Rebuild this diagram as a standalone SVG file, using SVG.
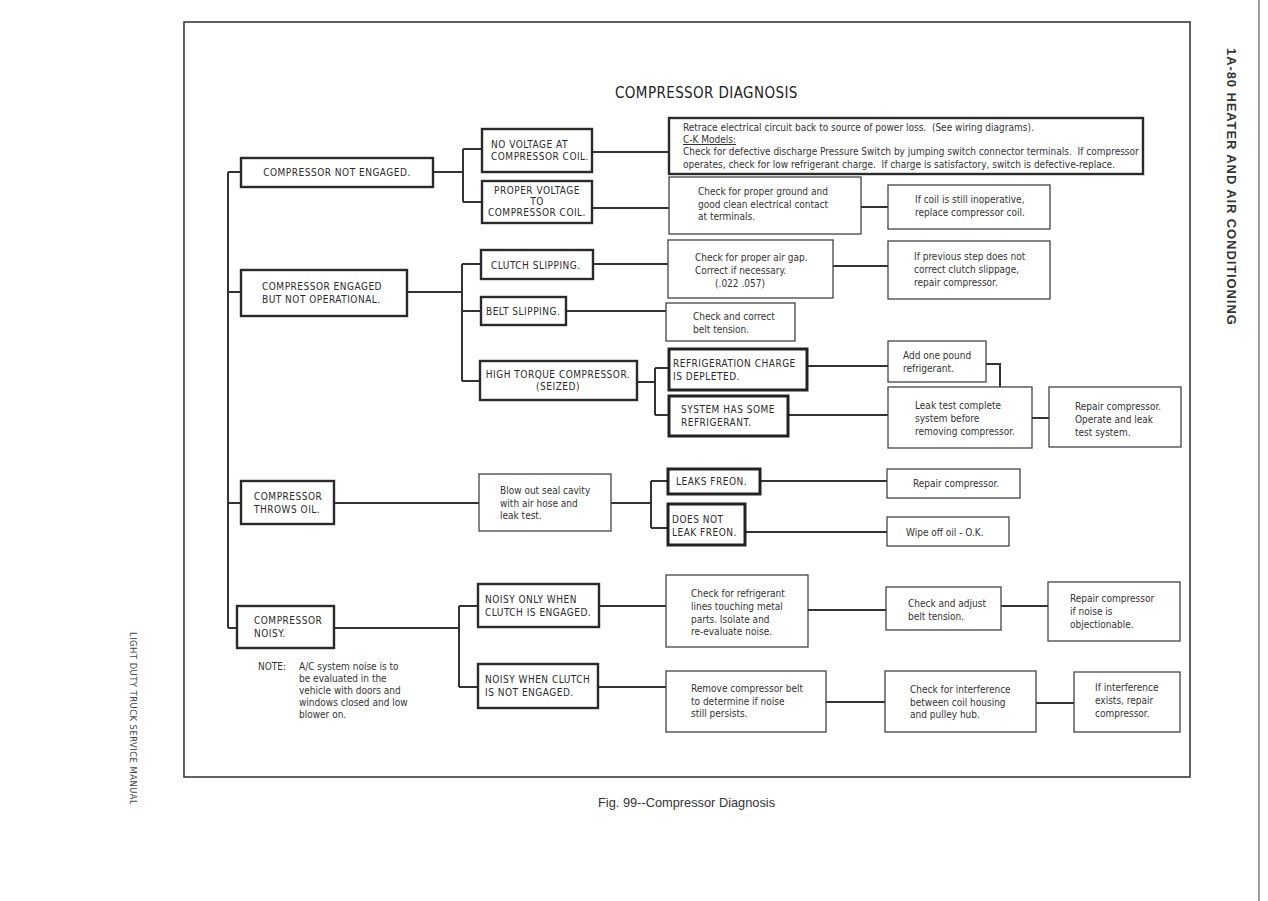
<svg xmlns="http://www.w3.org/2000/svg" width="1268" height="901" viewBox="0 0 1268 901">
<style>
.bg{fill:#fff}
.frame{fill:none;stroke:#3a3a3a;stroke-width:1.6}
.bx{fill:#fff;stroke:#2a2a2a;stroke-width:2.4}
.bxx{fill:#fff;stroke:#222;stroke-width:3}
.bt{fill:#fff;stroke:#444;stroke-width:1.3}
.ln{fill:none;stroke:#333;stroke-width:2}
.cap{font-family:"Liberation Sans Narrow","DejaVu Sans Condensed","Liberation Sans",sans-serif;font-size:10px;letter-spacing:0.5px;fill:#2a2a2a}
.txt{font-family:"Liberation Sans Narrow","DejaVu Sans Condensed","Liberation Sans",sans-serif;font-size:10px;fill:#333}
.mid{text-anchor:middle}
.title{font-family:"Liberation Sans Narrow","DejaVu Sans Condensed","Liberation Sans",sans-serif;font-size:15px;letter-spacing:0.4px;fill:#222}
.side{font-family:"Liberation Sans","DejaVu Sans",sans-serif;font-size:13px;font-weight:bold;letter-spacing:0.9px;fill:#333}
.side2{font-family:"Liberation Sans Narrow","DejaVu Sans Condensed","Liberation Sans",sans-serif;font-size:9.3px;letter-spacing:0.5px;fill:#444}
.cap2{font-family:"Liberation Sans","DejaVu Sans",sans-serif;font-size:12.8px;fill:#333}
</style>
<rect class="bg" x="0" y="0" width="1268" height="901"/>
<line x1="1259" y1="0" x2="1259" y2="901" stroke="#9a9a9a" stroke-width="2"/>
<rect class="frame" x="184" y="22" width="1006" height="755"/>
<text class="title" x="615" y="98">COMPRESSOR DIAGNOSIS</text>

<g id="connectors">
<path class="ln" d="M228 172V628M228 172H241M228 292H241M228 503H241M228 628H237"/>
<path class="ln" d="M433 172H463M463 149V202M463 149H482M463 202H482"/>
<path class="ln" d="M592 152H669M592 208H669M861 207H888"/>
<path class="ln" d="M407 292H462M462 264V381M462 264H481M462 311H481M462 381H480"/>
<path class="ln" d="M593 264H668M833 266H888M566 311H666"/>
<path class="ln" d="M637 382H655M655 368V415M655 368H669M655 415H669"/>
<path class="ln" d="M807 366H888M986 364H1000V387M788 415H888M1032 418H1049"/>
<path class="ln" d="M334 503H479M611 503H651M651 481V528M651 481H668M651 528H668M760 481H887M745 532H887"/>
<path class="ln" d="M334 628H459M459 606V687M459 606H478M459 687H478"/>
<path class="ln" d="M599 606H666M808 610H886M1001 606H1048M598 687H666M826 702H885M1036 703H1074"/>
</g>

<g id="n1"><rect class="bx" x="241" y="158" width="192" height="29"/><text class="cap mid" x="337" y="176">COMPRESSOR NOT ENGAGED.</text></g>
<g id="n2"><rect class="bx" x="482" y="129" width="110" height="43"/><text class="cap" x="491" y="148">NO VOLTAGE AT</text><text class="cap" x="491" y="160">COMPRESSOR COIL.</text></g>
<g id="n3"><rect class="bx" x="482" y="181" width="110" height="42"/><text class="cap mid" x="537" y="194">PROPER VOLTAGE</text><text class="cap mid" x="537" y="205">TO</text><text class="cap mid" x="537" y="216">COMPRESSOR COIL.</text></g>
<g id="n4"><rect class="bx" x="669" y="118" width="474" height="56"/>
<text class="txt" x="683" y="131" xml:space="preserve">Retrace electrical circuit back to source of power loss.  (See wiring diagrams).</text>
<text class="txt" x="683" y="143" text-decoration="underline">C-K Models:</text>
<text class="txt" x="683" y="155" xml:space="preserve">Check for defective discharge Pressure Switch by jumping switch connector terminals.  If compressor</text>
<text class="txt" x="683" y="168" xml:space="preserve">operates, check for low refrigerant charge.  If charge is satisfactory, switch is defective-replace.</text></g>
<g id="n5"><rect class="bt" x="669" y="177" width="192" height="57"/><text class="txt" x="698" y="195">Check for proper ground and</text><text class="txt" x="698" y="208">good clean electrical contact</text><text class="txt" x="698" y="220">at terminals.</text></g>
<g id="n6"><rect class="bt" x="888" y="185" width="162" height="44"/><text class="txt" x="915" y="203">If coil is still inoperative,</text><text class="txt" x="915" y="216">replace compressor coil.</text></g>

<g id="n7"><rect class="bx" x="241" y="270" width="166" height="46"/><text class="cap" x="262" y="290">COMPRESSOR ENGAGED</text><text class="cap" x="262" y="303">BUT NOT OPERATIONAL.</text></g>
<g id="n8"><rect class="bx" x="481" y="250" width="112" height="29"/><text class="cap" x="491" y="269">CLUTCH SLIPPING.</text></g>
<g id="n9"><rect class="bx" x="481" y="297" width="85" height="28"/><text class="cap" x="486" y="315">BELT SLIPPING.</text></g>
<g id="n10"><rect class="bx" x="480" y="361" width="157" height="39"/><text class="cap mid" x="558" y="378">HIGH TORQUE COMPRESSOR.</text><text class="cap mid" x="558" y="390">(SEIZED)</text></g>
<g id="n11"><rect class="bt" x="668" y="240" width="165" height="58"/><text class="txt" x="695" y="261">Check for proper air gap.</text><text class="txt" x="695" y="274">Correct if necessary.</text><text class="txt mid" x="740" y="287">(.022 .057)</text></g>
<g id="n12"><rect class="bt" x="888" y="241" width="162" height="58"/><text class="txt" x="914" y="260">If previous step does not</text><text class="txt" x="914" y="273">correct clutch slippage,</text><text class="txt" x="914" y="286">repair compressor.</text></g>
<g id="n13"><rect class="bt" x="666" y="303" width="129" height="38"/><text class="txt" x="693" y="320">Check and correct</text><text class="txt" x="693" y="333">belt tension.</text></g>
<g id="n14"><rect class="bxx" x="669" y="349" width="138" height="41"/><text class="cap" x="673" y="367">REFRIGERATION CHARGE</text><text class="cap" x="673" y="380">IS DEPLETED.</text></g>
<g id="n15"><rect class="bxx" x="669" y="396" width="119" height="40"/><text class="cap" x="681" y="413">SYSTEM HAS SOME</text><text class="cap" x="681" y="426">REFRIGERANT.</text></g>
<g id="n16"><rect class="bt" x="888" y="341" width="98" height="41"/><text class="txt" x="903" y="359">Add one pound</text><text class="txt" x="903" y="372">refrigerant.</text></g>
<g id="n17"><rect class="bt" x="888" y="387" width="144" height="61"/><text class="txt" x="915" y="409">Leak test complete</text><text class="txt" x="915" y="422">system before</text><text class="txt" x="915" y="435">removing compressor.</text></g>
<g id="n18"><rect class="bt" x="1049" y="387" width="132" height="60"/><text class="txt" x="1075" y="410">Repair compressor.</text><text class="txt" x="1075" y="423">Operate and leak</text><text class="txt" x="1075" y="436">test system.</text></g>

<g id="n19"><rect class="bx" x="241" y="481" width="93" height="43"/><text class="cap" x="254" y="500">COMPRESSOR</text><text class="cap" x="254" y="513">THROWS OIL.</text></g>
<g id="n20"><rect class="bt" x="479" y="474" width="132" height="57"/><text class="txt" x="500" y="494">Blow out seal cavity</text><text class="txt" x="500" y="507">with air hose and</text><text class="txt" x="500" y="519">leak test.</text></g>
<g id="n21"><rect class="bxx" x="668" y="469" width="92" height="25"/><text class="cap" x="676" y="485">LEAKS FREON.</text></g>
<g id="n22"><rect class="bxx" x="668" y="504" width="77" height="41"/><text class="cap" x="672" y="523">DOES NOT</text><text class="cap" x="672" y="536">LEAK FREON.</text></g>
<g id="n23"><rect class="bt" x="887" y="469" width="133" height="29"/><text class="txt" x="913" y="487">Repair compressor.</text></g>
<g id="n24"><rect class="bt" x="887" y="517" width="122" height="29"/><text class="txt" x="906" y="536">Wipe off oil - O.K.</text></g>

<g id="n25"><rect class="bx" x="237" y="606" width="97" height="42"/><text class="cap" x="254" y="624">COMPRESSOR</text><text class="cap" x="254" y="637">NOISY.</text></g>
<g id="note"><text class="txt" x="258" y="670">NOTE:</text><text class="txt" x="299" y="670">A/C system noise is to</text><text class="txt" x="299" y="682">be evaluated in the</text><text class="txt" x="299" y="694">vehicle with doors and</text><text class="txt" x="299" y="706">windows closed and low</text><text class="txt" x="299" y="718">blower on.</text></g>
<g id="n26"><rect class="bx" x="478" y="584" width="121" height="43"/><text class="cap" x="485" y="603">NOISY ONLY WHEN</text><text class="cap" x="485" y="616">CLUTCH IS ENGAGED.</text></g>
<g id="n27"><rect class="bx" x="478" y="664" width="120" height="44"/><text class="cap" x="485" y="683">NOISY WHEN CLUTCH</text><text class="cap" x="485" y="696">IS NOT ENGAGED.</text></g>
<g id="n28"><rect class="bt" x="666" y="575" width="142" height="72"/><text class="txt" x="691" y="597">Check for refrigerant</text><text class="txt" x="691" y="610">lines touching metal</text><text class="txt" x="691" y="623">parts. Isolate and</text><text class="txt" x="691" y="635">re-evaluate noise.</text></g>
<g id="n29"><rect class="bt" x="886" y="587" width="115" height="43"/><text class="txt" x="908" y="607">Check and adjust</text><text class="txt" x="908" y="620">belt tension.</text></g>
<g id="n30"><rect class="bt" x="1048" y="582" width="132" height="59"/><text class="txt" x="1070" y="602">Repair compressor</text><text class="txt" x="1070" y="615">if noise is</text><text class="txt" x="1070" y="628">objectionable.</text></g>
<g id="n31"><rect class="bt" x="666" y="671" width="160" height="61"/><text class="txt" x="691" y="692">Remove compressor belt</text><text class="txt" x="691" y="705">to determine if noise</text><text class="txt" x="691" y="717">still persists.</text></g>
<g id="n32"><rect class="bt" x="885" y="671" width="151" height="61"/><text class="txt" x="910" y="693">Check for interference</text><text class="txt" x="910" y="706">between coil housing</text><text class="txt" x="910" y="718">and pulley hub.</text></g>
<g id="n33"><rect class="bt" x="1074" y="672" width="106" height="60"/><text class="txt" x="1095" y="691">If interference</text><text class="txt" x="1095" y="704">exists, repair</text><text class="txt" x="1095" y="717">compressor.</text></g>

<text class="cap2" x="598" y="807">Fig. 99--Compressor Diagnosis</text>
<text class="side" transform="translate(1227 48) rotate(90)">1A-80 HEATER AND AIR CONDITIONING</text>
<text class="side2" transform="translate(130 632) rotate(90)">LIGHT DUTY TRUCK SERVICE MANUAL</text>
</svg>
